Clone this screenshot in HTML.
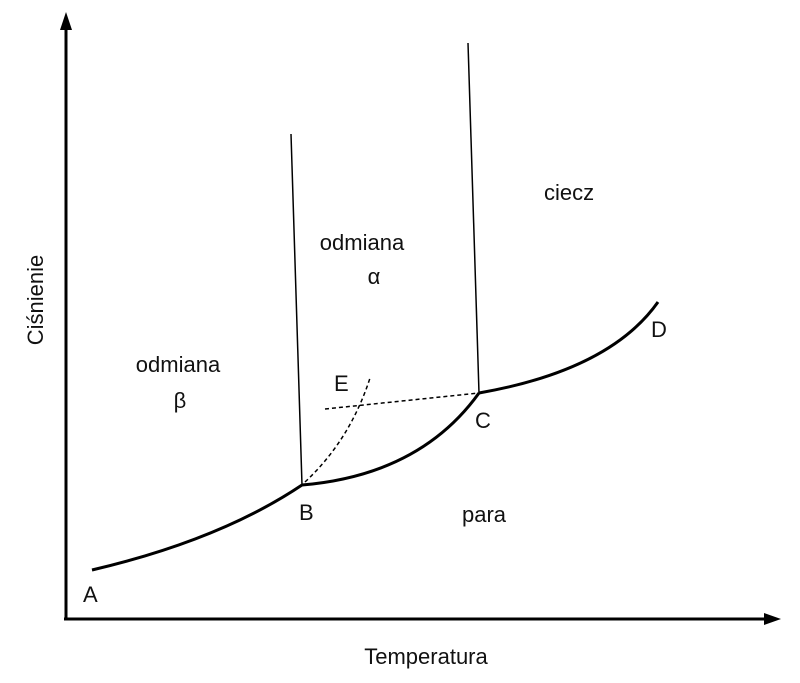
<!DOCTYPE html>
<html><head><meta charset="utf-8"><style>
body{margin:0;background:#fff}
text{font-family:"Liberation Sans",sans-serif;font-size:22px;fill:#111}
</style></head><body>
<svg width="800" height="678" viewBox="0 0 800 678" xmlns="http://www.w3.org/2000/svg">
<rect width="800" height="678" fill="#fff"/>
<line x1="66" y1="620" x2="66" y2="26" stroke="#000" stroke-width="3"/>
<polygon points="66,12 60,30 72,30" fill="#000"/>
<line x1="64" y1="619" x2="766" y2="619" stroke="#000" stroke-width="3"/>
<polygon points="781,619 764,613 764,625" fill="#000"/>
<path d="M92,570 Q220,540 302,485" fill="none" stroke="#000" stroke-width="3"/>
<path d="M302,485 Q420,475 479,393" fill="none" stroke="#000" stroke-width="3"/>
<path d="M479,393 Q610,370 658,302" fill="none" stroke="#000" stroke-width="3"/>
<line x1="302" y1="485" x2="291" y2="134" stroke="#000" stroke-width="1.5"/>
<line x1="479" y1="393" x2="468" y2="43" stroke="#000" stroke-width="1.5"/>
<line x1="325" y1="409" x2="479" y2="393" stroke="#000" stroke-width="1.5" stroke-dasharray="4,3"/>
<path d="M305,482 Q350,440 370,378" fill="none" stroke="#000" stroke-width="1.5" stroke-dasharray="4,3"/>
<text x="0" y="0" transform="translate(43,300) rotate(-90)" text-anchor="middle">Ciśnienie</text>
<text x="426" y="664" text-anchor="middle">Temperatura</text>
<text x="83" y="602">A</text>
<text x="299" y="520">B</text>
<text x="475" y="428">C</text>
<text x="651" y="337">D</text>
<text x="334" y="391">E</text>
<text x="544" y="200">ciecz</text>
<text x="462" y="522">para</text>
<text x="362" y="250" text-anchor="middle">odmiana</text>
<text x="374" y="284" text-anchor="middle">α</text>
<text x="178" y="372" text-anchor="middle">odmiana</text>
<text x="180" y="408" text-anchor="middle">β</text>
</svg>
</body></html>
